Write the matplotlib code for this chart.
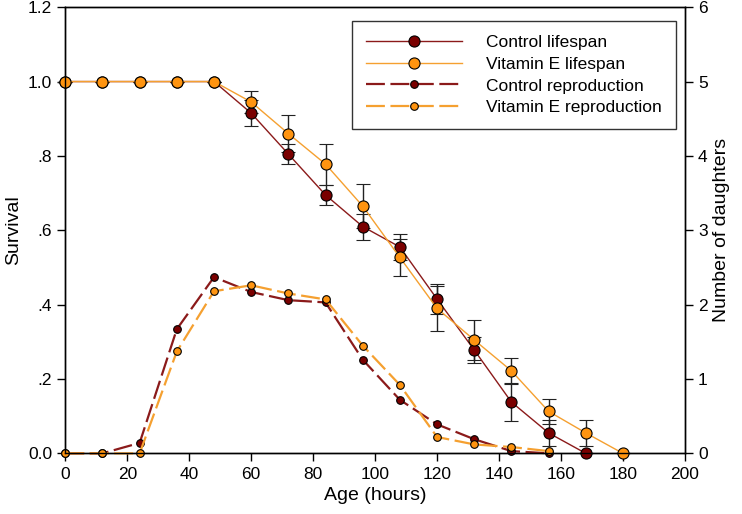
import matplotlib.pyplot as plt
from matplotlib.lines import Line2D

plt.rcParams['font.family'] = ['Liberation Sans', 'DejaVu Sans']

# ages (hours)
age_ctrl = [0, 12, 24, 36, 48, 60, 72, 84, 96, 108, 120, 132, 144, 156, 168]
age_vit = [0, 12, 24, 36, 48, 60, 72, 84, 96, 108, 120, 132, 144, 156, 168, 180]

# survival (left axis)
surv_ctrl = [1, 1, 1, 1, 1, 0.915, 0.805, 0.695, 0.61, 0.555, 0.415, 0.278, 0.138, 0.055, 0.0]
err_ctrl = [0, 0, 0, 0, 0, 0.035, 0.027, 0.028, 0.035, 0.035, 0.04, 0.035, 0.05, 0.035, 0]
surv_vit = [1, 1, 1, 1, 1, 0.945, 0.86, 0.778, 0.665, 0.527, 0.39, 0.305, 0.222, 0.113, 0.055, 0.0]
err_vit = [0, 0, 0, 0, 0, 0.03, 0.05, 0.055, 0.06, 0.05, 0.06, 0.055, 0.035, 0.033, 0.035, 0]

# daughters (right axis)
age_rep = [0, 12, 24, 36, 48, 60, 72, 84, 96, 108, 120, 132, 144, 156]
rep_ctrl = [0, 0, 0.14, 1.67, 2.37, 2.17, 2.06, 2.03, 1.26, 0.72, 0.39, 0.19, 0.03, 0.0]
rep_vit = [0, 0, 0, 1.37, 2.18, 2.26, 2.15, 2.07, 1.45, 0.92, 0.22, 0.12, 0.085, 0.03]

labels = ['Control lifespan', 'Vitamin E lifespan', 'Control reproduction', 'Vitamin E reproduction']

c_dark = '#7a0000'
c_dark_line = '#8b1a1a'
c_or = '#ff9410'
c_or_line = '#f5a030'

fig, ax = plt.subplots(figsize=(7.42, 5.14), dpi=100)
fig.subplots_adjust(left=0.088, right=0.923, top=0.986, bottom=0.118)
ax2 = ax.twinx()

life_kw = dict(lw=1.0, marker='o', ms=8, mec='black', mew=0.8)
rep_kw = dict(lw=1.6, dashes=(8.5, 2.5), marker='o', ms=5.5, mec='black', mew=0.8)

ax.errorbar(age_ctrl, surv_ctrl, yerr=err_ctrl, color=c_dark_line, mfc=c_dark,
            ecolor='#222222', elinewidth=1.0, capsize=5, clip_on=False, zorder=3, **life_kw)
ax.errorbar(age_vit, surv_vit, yerr=err_vit, color=c_or_line, mfc=c_or,
            ecolor='#222222', elinewidth=1.0, capsize=5, clip_on=False, zorder=3, **life_kw)

ax2.plot(age_rep, rep_ctrl, color=c_dark_line, mfc=c_dark, clip_on=False, **rep_kw)
ax2.plot(age_rep, rep_vit, color=c_or_line, mfc=c_or, clip_on=False, **rep_kw)

ax.set_xlim(0, 200)
ax.set_ylim(0, 1.2)
ax2.set_ylim(0, 6)
ax.set_xticks(range(0, 201, 20))
ax.set_yticks([0, 0.2, 0.4, 0.6, 0.8, 1.0, 1.2])
ax.set_yticklabels(['0.0', '.2', '.4', '.6', '.8', '1.0', '1.2'])
ax2.set_yticks(range(0, 7))

for a in (ax, ax2):
    a.tick_params(direction='out', length=6, width=1, labelsize=12.5)
    for s in a.spines.values():
        s.set_linewidth(1.0)

ax.set_xlabel('Age (hours)', fontsize=14)
ax.set_ylabel('Survival', fontsize=14)
ax2.set_ylabel('Number of daughters', fontsize=14)

handles = [
    Line2D([], [], color=c_dark_line, mfc=c_dark, **life_kw),
    Line2D([], [], color=c_or_line, mfc=c_or, **life_kw),
    Line2D([], [], color=c_dark_line, mfc=c_dark, **rep_kw),
    Line2D([], [], color=c_or_line, mfc=c_or, **rep_kw),
]
leg = ax2.legend(handles, labels, loc='upper right', bbox_to_anchor=(0.985, 0.969),
                 fontsize=12.5, frameon=True, fancybox=False, edgecolor='black',
                 handlelength=5.5, borderpad=0.8, labelspacing=0.38, handletextpad=1.4,
                 borderaxespad=0)
leg.get_frame().set_linewidth(1.0)

fig.savefig('out.png', dpi=100)
